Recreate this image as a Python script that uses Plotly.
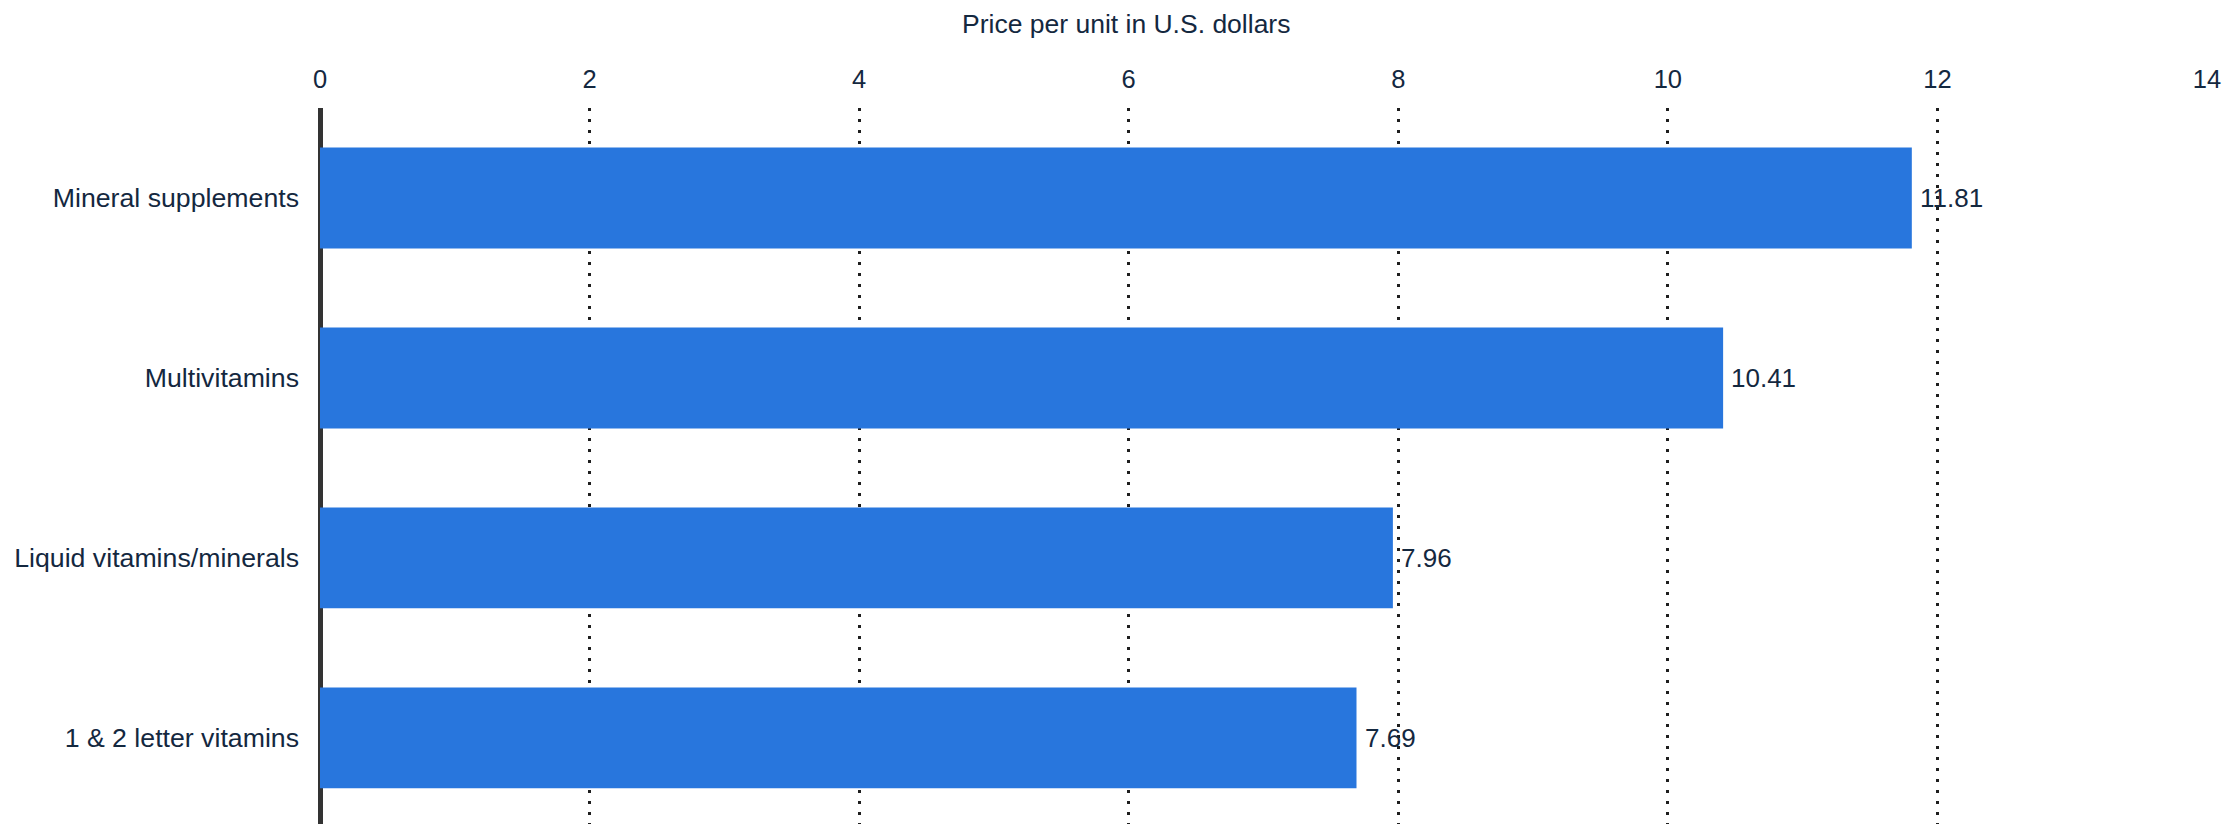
import plotly.graph_objects as go

# Average price per unit of vitamin/supplement categories
categories = [
    "Mineral supplements",
    "Multivitamins",
    "Liquid vitamins/minerals",
    "1 & 2 letter vitamins",
]
prices = [11.81, 10.41, 7.96, 7.69]
x_ticks = [0, 2, 4, 6, 8, 10, 12, 14]

text_color = "#14283f"
bar_color = "#2876dd"
font_family = "Liberation Sans, Arial, sans-serif"

fig = go.Figure()
fig.add_trace(go.Bar(
    x=prices,
    y=categories,
    orientation="h",
    width=0.56,
    marker=dict(color=bar_color, line=dict(width=0)),
    hoverinfo="skip",
))

# Value labels just past the end of each bar
for cat, val in zip(categories, prices):
    fig.add_annotation(
        x=val, y=cat, xref="x", yref="y",
        text=f"{val:.2f}", showarrow=False,
        xanchor="left", yanchor="middle", xshift=6,
        font=dict(size=26, color=text_color, family=font_family),
    )

# Axis title above the tick labels (pixel position converted to paper space)
plot_w = 2227 - 320 - 20
plot_h = 824 - 108
fig.add_annotation(
    x=(1126 - 320) / plot_w, y=(824 - 24) / plot_h,
    xref="paper", yref="paper",
    text="Price per unit in U.S. dollars", showarrow=False,
    xanchor="center", yanchor="middle",
    font=dict(size=26.5, color=text_color, family=font_family),
)

fig.update_layout(
    width=2227, height=824,
    margin=dict(l=320, r=20, t=108, b=0, pad=0),
    paper_bgcolor="white", plot_bgcolor="white",
    showlegend=False,
    font=dict(family=font_family, color=text_color),
    xaxis=dict(
        side="top",
        range=[0, 14],
        tickvals=x_ticks,
        ticks="",
        tickfont=dict(size=25.5, color=text_color),
        ticklabelstandoff=14,
        showgrid=True,
        gridcolor="#1e1e1e",
        gridwidth=2.5,
        griddash="3px,8px",
        zeroline=True,
        zerolinecolor="#333333",
        zerolinewidth=5,
        showline=False,
        fixedrange=True,
    ),
    yaxis=dict(
        type="category",
        categoryorder="array",
        categoryarray=categories,
        range=[3.478, -0.5],
        ticks="",
        tickfont=dict(size=26.7, color=text_color),
        ticklabelstandoff=20,
        showgrid=False,
        zeroline=False,
        showline=False,
        fixedrange=True,
    ),
)

fig.write_html("out.html")
